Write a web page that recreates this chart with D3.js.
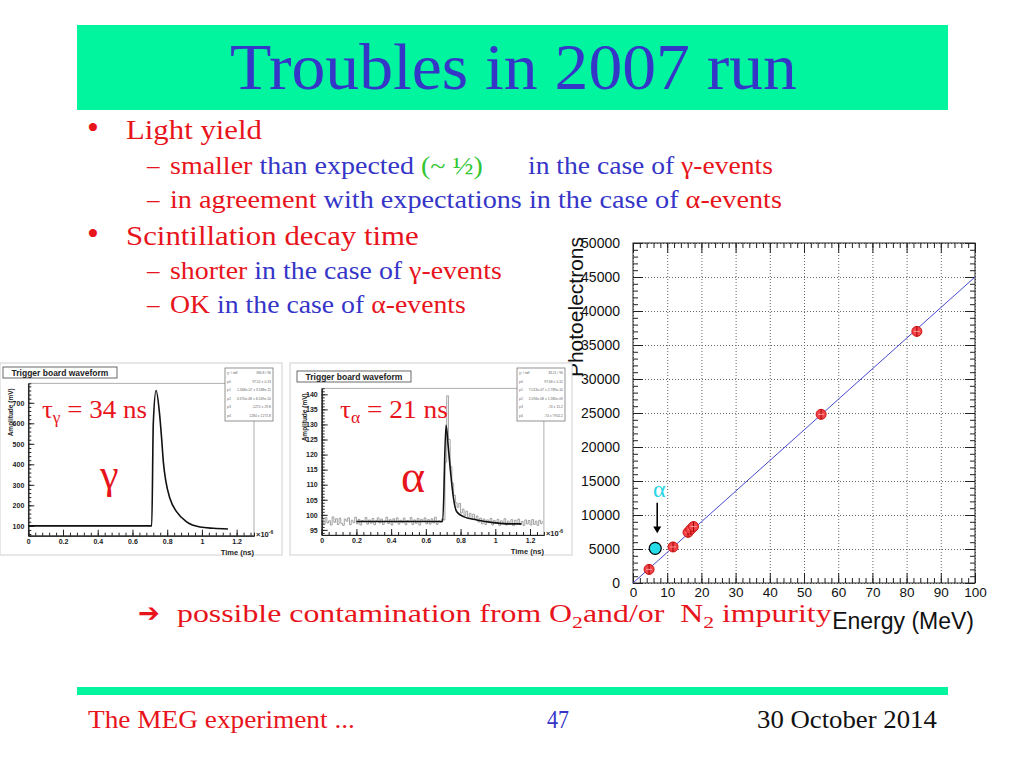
<!DOCTYPE html>
<html>
<head>
<meta charset="utf-8">
<script src="https://cdn.jsdelivr.net/npm/d3@7"></script>
<style>
  body { margin: 0; background: #fff; }
  svg { display: block; }
</style>
</head>
<body>
<svg id="slide" width="1024" height="768"></svg>
<script>
// ---- scatter: light yield vs energy ----
const energy = [4.7, 11.7, 16.1, 16.9, 17.7, 55.0, 83.0];
const photoElectrons = [2000, 5300, 7450, 7900, 8300, 24800, 37000];
const alphaEnergy = [6.5];
const alphaPhotoElectrons = [5100];
const fitEnergy = [0, 100];
const fitPhotoElectrons = [0, 45000];
const energyTicks = [0, 10, 20, 30, 40, 50, 60, 70, 80, 90, 100];
const peTicks = [0, 5000, 10000, 15000, 20000, 25000, 30000, 35000, 40000, 45000, 50000];

// ---- gamma waveform ----
const gammaTime = [0, 0.711, 0.72, 0.736, 0.755, 0.768, 0.778, 0.793, 0.816, 0.855, 0.912, 0.989, 1.066, 1.15];
const gammaAmp  = [100, 100, 600, 760, 655, 525, 411, 314, 233, 168, 119, 94, 88, 85];
const gammaAmpTicks = [100, 200, 300, 400, 500, 600, 700];

// ---- alpha waveform ----
const alphaFitTime = [0.2, 0.697, 0.716, 0.729, 0.743, 0.758, 0.778, 0.816, 0.893, 0.988, 1.085, 1.15];
const alphaFitAmp  = [97.8, 97.8, 129.8, 122.6, 113.8, 106.0, 101.0, 99.4, 98.3, 97.4, 97.0, 97.0];
const alphaSampleStep = 0.01;
const alphaSamples = [
  98.4, 96.9, 99.1, 97.3, 98.0, 96.6, 99.3, 97.5, 98.7, 96.8,
  98.9, 97.2, 96.5, 98.6, 97.9, 99.0, 96.7, 98.2, 97.4, 99.2,
  97.0, 98.5, 96.6, 98.1, 97.7, 99.1, 96.9, 98.3, 97.2, 98.8,
  96.7, 98.0, 99.0, 97.3, 98.6, 96.8, 97.9, 99.2, 97.1, 98.4,
  96.6, 98.7, 97.5, 99.0, 96.9, 98.2, 97.4, 98.9, 96.7, 98.1,
  97.6, 99.1, 96.8, 98.3, 97.2, 98.8, 96.6, 98.5, 97.8, 99.0,
  97.0, 98.4, 96.9, 98.7, 97.3, 99.2, 96.8, 98.0, 97.5, 98.6,
  98.3, 117.5, 139.5, 125.0, 116.0, 110.5, 106.5, 104.0, 102.5, 103.8,
  100.6, 101.9, 99.7, 101.2, 99.1, 100.5, 98.7, 100.2, 98.4, 99.6,
  97.6, 98.9, 97.0, 98.6, 96.8, 98.3, 97.4, 98.8, 96.6, 98.1,
  97.2, 98.5, 96.5, 98.0, 97.3, 98.7, 96.6, 97.9, 97.0, 98.4,
  96.4, 98.2, 97.1, 98.6, 96.7, 97.8, 96.5, 98.3, 97.0, 98.1,
  96.6, 98.4, 96.8, 97.9, 96.5, 98.2, 97.1, 98.0
];
const alphaAmpTicks = [95, 100, 105, 110, 115, 120, 125, 130, 135, 140];
const timeTicks = [0, 0.2, 0.4, 0.6, 0.8, 1, 1.2];

const gammaStats = [["\u03c7\u00b2 / ndf", "186.8 / 96"], ["p0", "97.52 \u00b1 0.13"], ["p1", "1.368e-07 \u00b1 3.588e-11"],
                    ["p2", "3.370e-08 \u00b1 8.249e-10"], ["p3", "-1272 \u00b1 29.8"], ["p4", "1284 \u00b1 1271.8"]];
const alphaStats = [["\u03c7\u00b2 / ndf", "33.11 / 96"], ["p0", "97.68 \u00b1 0.12"], ["p1", "7.013e-07 \u00b1 2.789e-10"],
                    ["p2", "2.094e-08 \u00b1 1.380e-09"], ["p3", "-74 \u00b1 15.2"], ["p4", "-74 \u00b1 7902.2"]];

const RED = "#e8141c", BLUE = "#3535c8", GREEN = "#33c633", MINT = "#00f59e";
const SERIF = "'Liberation Serif', 'Times New Roman', serif";
const SANS = "'Liberation Sans', Arial, Helvetica, sans-serif";

const svg = d3.select("#slide");

// stretch a text horizontally so it spans [x0, x1] (the slide font is wider than Times)
function fitText(sel, x0, x1, y) {
  sel.attr("x", 0).attr("y", 0);
  const w = sel.node().getComputedTextLength();
  sel.attr("transform", `translate(${x0},${y}) scale(${(x1 - x0) / w},1)`);
  return sel;
}

// ================= scatter plot =================
const sx = d3.scaleLinear().domain([0, 100]).range([633, 975]);
const sy = d3.scaleLinear().domain([0, 50000]).range([583, 243]);
const sc = svg.append("g");

function styleAxis(g) {
  g.select(".domain").remove();
  g.selectAll("line").attr("stroke", "#222");
  g.selectAll("text").attr("font-family", SANS).attr("font-size", 14).attr("fill", "#111");
}
function bareAxis(g) {
  styleAxis(g);
  g.selectAll("text").remove();
}

// dotted grid
sc.append("g").attr("transform", "translate(0,583)")
  .call(d3.axisBottom(sx).tickValues(energyTicks).tickSize(-340))
  .call(bareAxis)
  .selectAll("line").attr("stroke", "#666").attr("stroke-dasharray", "1,2");
sc.append("g").attr("transform", "translate(633,0)")
  .call(d3.axisLeft(sy).tickValues(peTicks).tickSize(-342))
  .call(bareAxis)
  .selectAll("line").attr("stroke", "#666").attr("stroke-dasharray", "1,2");

// axes with ROOT-style inner ticks on all four sides
sc.append("g").attr("transform", "translate(0,583)")
  .call(d3.axisBottom(sx).tickValues(energyTicks).tickSizeInner(-10).tickSizeOuter(0).tickPadding(4).tickFormat(d3.format("d")))
  .call(styleAxis).call(g => g.selectAll("text").attr("font-size", 13.5));
sc.append("g").attr("transform", "translate(0,583)")
  .call(d3.axisBottom(sx).tickValues(d3.range(0, 101, 2)).tickSize(-5)).call(bareAxis);
sc.append("g").attr("transform", "translate(0,243)")
  .call(d3.axisTop(sx).tickValues(energyTicks).tickSize(-10)).call(bareAxis);
sc.append("g").attr("transform", "translate(0,243)")
  .call(d3.axisTop(sx).tickValues(d3.range(0, 101, 2)).tickSize(-5)).call(bareAxis);
sc.append("g").attr("transform", "translate(633,0)")
  .call(d3.axisLeft(sy).tickValues(peTicks).tickSizeInner(-10).tickSizeOuter(0).tickPadding(13).tickFormat(d3.format("d")))
  .call(styleAxis);
sc.append("g").attr("transform", "translate(633,0)")
  .call(d3.axisLeft(sy).tickValues(d3.range(0, 50001, 1000)).tickSize(-5)).call(bareAxis);
sc.append("g").attr("transform", "translate(975,0)")
  .call(d3.axisRight(sy).tickValues(peTicks).tickSize(-10)).call(bareAxis);
sc.append("g").attr("transform", "translate(975,0)")
  .call(d3.axisRight(sy).tickValues(d3.range(0, 50001, 1000)).tickSize(-5)).call(bareAxis);

sc.append("rect").attr("x", 633).attr("y", 243).attr("width", 342).attr("height", 340)
  .attr("fill", "none").attr("stroke", "#222").attr("stroke-width", 1);

// fit line
sc.append("clipPath").attr("id", "plotClip").append("rect")
  .attr("x", 633).attr("y", 243).attr("width", 342).attr("height", 340);
sc.append("path")
  .datum(fitEnergy.map((e, i) => [e, fitPhotoElectrons[i]]))
  .attr("clip-path", "url(#plotClip)")
  .attr("d", d3.line().x(d => sx(d[0])).y(d => sy(d[1])))
  .attr("fill", "none").attr("stroke", "#4848d0").attr("stroke-width", 1);

// gamma points
const pts = sc.append("g").selectAll("g").data(energy.map((e, i) => [e, photoElectrons[i]])).join("g")
  .attr("transform", d => `translate(${sx(d[0])},${sy(d[1])})`);
pts.append("circle").attr("r", 5).attr("fill", "#f2454a").attr("stroke", "#d01010").attr("stroke-width", 1);
pts.append("line").attr("y1", -5).attr("y2", 5).attr("stroke", "#a00000").attr("stroke-width", 1);
pts.append("line").attr("x1", -3).attr("x2", 3).attr("stroke", "#ffb0b0").attr("stroke-width", 0.8);

// alpha point with arrow
sc.append("g").selectAll("circle").data(alphaEnergy.map((e, i) => [e, alphaPhotoElectrons[i]])).join("circle")
  .attr("cx", d => sx(d[0])).attr("cy", d => sy(d[1])).attr("r", 6)
  .attr("fill", "#25dde8").attr("stroke", "#000").attr("stroke-width", 1.2);
const ax = sx(alphaEnergy[0]) + 2;
sc.append("line").attr("x1", ax).attr("x2", ax).attr("y1", sy(11800)).attr("y2", sy(8000))
  .attr("stroke", "#000").attr("stroke-width", 1.6);
sc.append("path")
  .attr("d", `M${ax - 4},${sy(8300)} L${ax + 4},${sy(8300)} L${ax},${sy(7300)} Z`).attr("fill", "#000");
sc.append("text").attr("x", ax + 2).attr("y", sy(12600)).attr("text-anchor", "middle")
  .attr("font-family", SERIF).attr("font-size", 24).attr("fill", "#25d6e6").text("\u03b1");

// axis titles
sc.append("text").attr("transform", "translate(583,237) rotate(-90)").attr("text-anchor", "end")
  .attr("font-family", SANS).attr("font-size", 21).attr("fill", "#111").text("Photoelectrons");
sc.append("text").attr("x", 974).attr("y", 629).attr("text-anchor", "end")
  .attr("font-family", SANS).attr("font-size", 23).attr("fill", "#111").text("Energy (MeV)");

// ================= waveform panels =================
function drawWave(o) {
  const g = svg.append("g");
  g.append("rect").attr("x", o.box[0]).attr("y", o.box[1]).attr("width", o.box[2]).attr("height", o.box[3])
    .attr("fill", "#fff").attr("stroke", "#d0d0d0");
  const x = d3.scaleLinear().domain(o.xDomain).range(o.xRange);
  const y = d3.scaleLinear().domain(o.yDomain).range(o.yRange);
  const [x0, x1] = o.xRange, [y0, y1] = o.yRange;

  g.append("rect").attr("x", x0).attr("y", y1).attr("width", x1 - x0).attr("height", y0 - y1)
    .attr("fill", "none").attr("stroke", "#9a9a9a").attr("stroke-width", 0.8);

  const waveAxis = sel => {
    sel.select(".domain").attr("stroke", "#222");
    sel.selectAll("line").attr("stroke", "#222");
    sel.selectAll("text").attr("font-family", SANS).attr("font-weight", "bold").attr("font-size", 7).attr("fill", "#222");
  };
  g.append("g").attr("transform", `translate(0,${y0})`)
    .call(d3.axisBottom(x).tickValues(timeTicks).tickSizeInner(-6).tickSizeOuter(0).tickPadding(3).tickFormat(d3.format("~g")))
    .call(waveAxis);
  g.append("g").attr("transform", `translate(0,${y0})`)
    .call(d3.axisBottom(x).tickValues(d3.range(0, o.xDomain[1], 0.04)).tickSize(-3))
    .call(waveAxis).call(s => s.selectAll("text").remove());
  g.append("g").attr("transform", `translate(${x0},0)`)
    .call(d3.axisLeft(y).tickValues(o.yTicks).tickSizeInner(-6).tickSizeOuter(0).tickPadding(4).tickFormat(d3.format("d")))
    .call(waveAxis);
  g.append("g").attr("transform", `translate(${x0},0)`)
    .call(d3.axisLeft(y).tickValues(o.yMinor).tickSize(-3))
    .call(waveAxis).call(s => s.selectAll("text").remove());

  if (o.samples) {
    g.append("path")
      .datum(o.samples.map((v, i) => [i * alphaSampleStep, v]))
      .attr("d", d3.line().curve(d3.curveStepAfter).x(d => x(d[0])).y(d => y(d[1])))
      .attr("fill", "none").attr("stroke", "#8c8c8c").attr("stroke-width", 0.8);
  }
  g.append("path")
    .datum(o.time.map((t, i) => [t, o.amp[i]]))
    .attr("d", d3.line().curve(d3.curveMonotoneX).x(d => x(d[0])).y(d => y(d[1])))
    .attr("fill", "none").attr("stroke", "#111").attr("stroke-width", 1.6);

  // title box
  g.append("rect").attr("x", o.title[0]).attr("y", o.title[1]).attr("width", 114).attr("height", 11)
    .attr("fill", "#fff").attr("stroke", "#444").attr("stroke-width", 0.8);
  g.append("text").attr("x", o.title[0] + 57).attr("y", o.title[1] + 8.5).attr("text-anchor", "middle")
    .attr("font-family", SANS).attr("font-weight", "bold").attr("font-size", 8.5).attr("fill", "#222")
    .text("Trigger board waveform");

  // stats box
  const sb = g.append("g").attr("transform", `translate(${o.stats[0]},${o.stats[1]})`);
  sb.append("rect").attr("width", 48).attr("height", 53).attr("fill", "#fff").attr("stroke", "#777").attr("stroke-width", 0.8);
  o.statRows.forEach((r, i) => {
    sb.append("text").attr("x", 2).attr("y", 6 + i * 8.6).attr("font-family", SANS).attr("font-size", 3.4).attr("fill", "#666").text(r[0]);
    sb.append("text").attr("x", 46).attr("y", 6 + i * 8.6).attr("text-anchor", "end").attr("font-family", SANS).attr("font-size", 3.4).attr("fill", "#666").text(r[1]);
  });

  // axis titles
  g.append("text").attr("transform", `translate(${o.yTitleX},${y1 + 5}) rotate(-90)`).attr("text-anchor", "end")
    .attr("font-family", SANS).attr("font-weight", "bold").attr("font-size", 6.5).attr("fill", "#222").text("Amplitude (mV)");
  g.append("text").attr("x", x1).attr("y", y0 + 19).attr("text-anchor", "end")
    .attr("font-family", SANS).attr("font-weight", "bold").attr("font-size", 7.5).attr("fill", "#222").text("Time (ns)");
  const ex = g.append("text").attr("x", x1 + 2).attr("y", y0 + 1).attr("font-family", SANS).attr("font-weight", "bold")
    .attr("font-size", 7.5).attr("fill", "#222");
  ex.append("tspan").text("\u00d710");
  ex.append("tspan").attr("dy", -3).attr("font-size", 5).text("-6");

  // annotations
  const ta = g.append("text").attr("font-family", SERIF).attr("font-size", 25).attr("fill", RED);
  ta.append("tspan").text("\u03c4");
  ta.append("tspan").attr("dy", 5).attr("font-size", 16).text(o.tauSub);
  ta.append("tspan").attr("dy", -5).text(" = " + o.tauText);
  fitText(ta, o.tau[0], o.tau[1], o.tau[2]);
  g.append("text").attr("x", o.big[0]).attr("y", o.big[1]).attr("font-family", SERIF).attr("font-size", o.big[2]).attr("fill", RED).text(o.bigText);
}

drawWave({
  box: [0, 363, 282, 192], xDomain: [0, 1.3], xRange: [28.3, 254], yDomain: [52, 795], yRange: [535.7, 383.3],
  yTicks: gammaAmpTicks, yMinor: d3.range(60, 795, 20), time: gammaTime, amp: gammaAmp,
  title: [3, 367], stats: [225, 368], statRows: gammaStats, yTitleX: 13,
  tau: [42, 147, 418], tauSub: "\u03b3", tauText: "34 ns", big: [100, 488, 42], bigText: "\u03b3"
});
drawWave({
  box: [290, 363, 282, 192], xDomain: [0, 1.28], xRange: [321.7, 543.9], yDomain: [93.3, 142], yRange: [535, 388.3],
  yTicks: alphaAmpTicks, yMinor: d3.range(94, 142, 1), time: alphaFitTime, amp: alphaFitAmp, samples: alphaSamples,
  title: [297, 371], stats: [517, 368], statRows: alphaStats, yTitleX: 307,
  tau: [340, 448, 418], tauSub: "\u03b1", tauText: "21 ns", big: [401, 492, 46], bigText: "\u03b1"
});

// ================= slide text =================
svg.append("rect").attr("x", 77).attr("y", 25).attr("width", 871).attr("height", 85).attr("fill", MINT);
fitText(svg.append("text").attr("font-family", SERIF).attr("font-size", 66).attr("fill", BLUE).text("Troubles in 2007 run"),
  230, 797, 89);

const bulletLines = [
  { level: 0, y: 139, x1: 262, parts: [["Light yield", RED]] },
  { level: 1, y: 174, x1: 483, parts: [["smaller", RED], [" than expected ", BLUE], ["(~ \u00bd)", GREEN]] },
  { level: 2, y: 174, x0: 528, x1: 773, parts: [["in the case of ", BLUE], ["\u03b3-events", RED]] },
  { level: 1, y: 208, x1: 782, parts: [["in agreement", RED], [" with expectations in the case of ", BLUE], ["\u03b1-events", RED]] },
  { level: 0, y: 245, x1: 419, parts: [["Scintillation decay time", RED]] },
  { level: 1, y: 279, x1: 502, parts: [["shorter", RED], [" in the case of ", BLUE], ["\u03b3-events", RED]] },
  { level: 1, y: 313, x1: 466, parts: [["OK", RED], [" in the case of ", BLUE], ["\u03b1-events", RED]] }
];
bulletLines.forEach(l => {
  const size = l.level === 0 ? 28 : 25;
  if (l.level < 2) {
    svg.append("text").attr("x", l.level === 0 ? 87 : 147).attr("y", l.y)
      .attr("font-family", SERIF).attr("font-size", l.level === 0 ? 34 : size).attr("fill", RED)
      .text(l.level === 0 ? "\u2022" : "\u2013");
  }
  const t = svg.append("text").attr("font-family", SERIF).attr("font-size", size).attr("xml:space", "preserve");
  l.parts.forEach(p => t.append("tspan").attr("fill", p[1]).text(p[0]));
  const x0 = l.level === 0 ? 126 : (l.level === 1 ? 170 : l.x0);
  fitText(t, x0, l.x1, l.y);
});

// conclusion line
svg.append("text").attr("x", 138).attr("y", 622).attr("font-family", "'DejaVu Sans', sans-serif")
  .attr("font-weight", "bold").attr("font-size", 26).attr("fill", RED).text("\u2794");
const concl = svg.append("text").attr("font-family", SERIF)
  .attr("font-size", 25).attr("fill", RED).attr("xml:space", "preserve");
concl.append("tspan").text("possible contamination from O");
concl.append("tspan").attr("dy", 6).attr("font-size", 17).text("2");
concl.append("tspan").attr("dy", -6).text("and/or  N");
concl.append("tspan").attr("dy", 6).attr("font-size", 17).text("2");
concl.append("tspan").attr("dy", -6).text(" impurity");
fitText(concl, 177, 832, 622);

// footer
svg.append("rect").attr("x", 77).attr("y", 687).attr("width", 871).attr("height", 8).attr("fill", MINT);
fitText(svg.append("text").attr("font-family", SERIF).attr("font-size", 25).attr("fill", RED).text("The MEG experiment ..."), 88, 355, 728);
fitText(svg.append("text").attr("font-family", SERIF).attr("font-size", 25).attr("fill", BLUE).text("47"), 547, 569, 728);
fitText(svg.append("text").attr("font-family", SERIF).attr("font-size", 25).attr("fill", "#111").text("30 October 2014"), 757, 937, 728);
</script>
</body>
</html>
